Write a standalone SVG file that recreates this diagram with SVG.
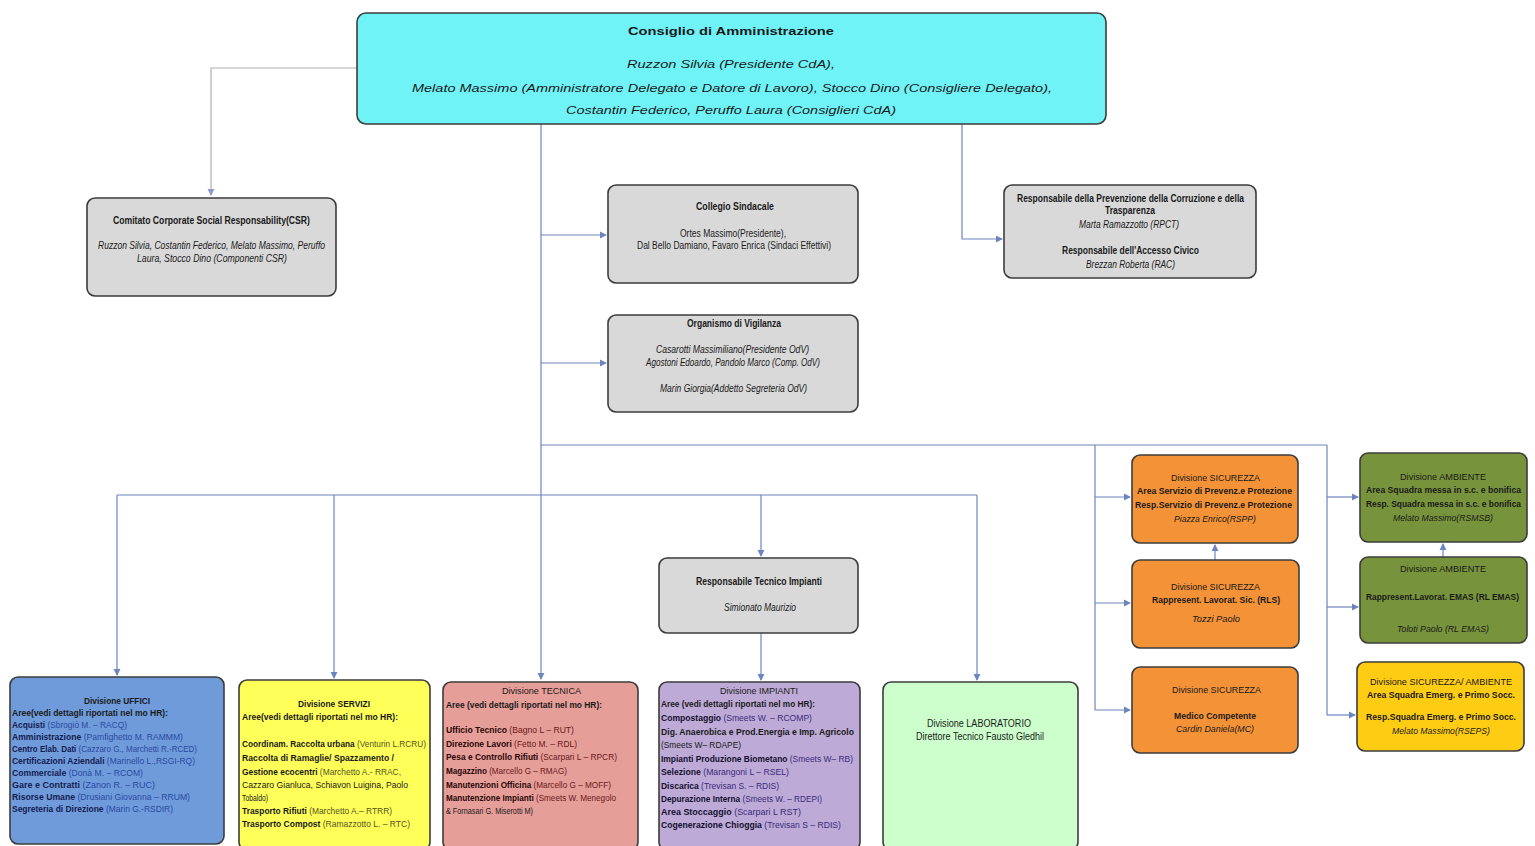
<svg xmlns="http://www.w3.org/2000/svg" width="1535" height="846" viewBox="0 0 1535 846">
<defs>
<style>
.t{font-family:"Liberation Sans Narrow","Liberation Sans",Arial,sans-serif;font-size:10px;fill:#1a1a1a}
.s{font-size:9px}
.x{font-size:8.4px}
.b{font-weight:bold}
.i{font-style:italic}
.box{stroke:#3c3c3c;stroke-width:1.6}
.c{fill:none;stroke:#6c84bf;stroke-width:1.2}
.g{fill:none;stroke:#b0b0b0;stroke-width:1.2}
.gray{fill:#d9d9d9}
</style>
<marker id="ar" viewBox="0 0 8 8" refX="7" refY="4" markerWidth="6" markerHeight="6" orient="auto"><path d="M0,0 L8,4 L0,8 z" fill="#6c84bf"/></marker>
<marker id="ag" viewBox="0 0 8 8" refX="7" refY="4" markerWidth="6" markerHeight="6" orient="auto"><path d="M0,0 L8,4 L0,8 z" fill="#8a9ccc"/></marker>
</defs>
<rect width="1535" height="846" fill="#ffffff"/>

<g id="connectors">
<path class="g" d="M357,68 H211 V195" marker-end="url(#ag)"/>
<path class="c" d="M541,124 V679" marker-end="url(#ar)"/>
<path class="c" d="M541,235 H606" marker-end="url(#ar)"/>
<path class="c" d="M541,363 H606" marker-end="url(#ar)"/>
<path class="c" d="M541,445 H1327"/>
<path class="c" d="M117,495 H977"/>
<path class="c" d="M117,495 V675" marker-end="url(#ar)"/>
<path class="c" d="M334,495 V678" marker-end="url(#ar)"/>
<path class="c" d="M761,495 V556" marker-end="url(#ar)"/>
<path class="c" d="M761,633 V680" marker-end="url(#ar)"/>
<path class="c" d="M977,495 V680" marker-end="url(#ar)"/>
<path class="c" d="M1095,445 V710"/>
<path class="c" d="M1095,497 H1130" marker-end="url(#ar)"/>
<path class="c" d="M1095,603 H1130" marker-end="url(#ar)"/>
<path class="c" d="M1095,710 H1130" marker-end="url(#ar)"/>
<path class="c" d="M1327,445 V715"/>
<path class="c" d="M1327,497 H1358" marker-end="url(#ar)"/>
<path class="c" d="M1327,607 H1358" marker-end="url(#ar)"/>
<path class="c" d="M1327,715 H1355" marker-end="url(#ar)"/>
<path class="c" d="M962,124 V239 H1002" marker-end="url(#ar)"/>
<path class="c" d="M1215,560 V545" marker-end="url(#ar)"/>
<path class="c" d="M1443,557 V544" marker-end="url(#ar)"/>
</g>

<g id="cda">
<rect class="box" x="357" y="13" width="749" height="111" rx="9" fill="#6ff3f6"/>
<text class="t b" x="628" y="35" font-size="18" textLength="206" lengthAdjust="spacingAndGlyphs">Consiglio di Amministrazione</text>
<text class="t i" x="627" y="68" font-size="17" textLength="208" lengthAdjust="spacingAndGlyphs">Ruzzon Silvia (Presidente CdA),</text>
<text class="t i" x="412" y="92" font-size="17" textLength="640" lengthAdjust="spacingAndGlyphs">Melato Massimo (Amministratore Delegato e Datore di Lavoro), Stocco Dino (Consigliere Delegato),</text>
<text class="t i" x="566" y="114" font-size="17" textLength="330" lengthAdjust="spacingAndGlyphs">Costantin Federico, Peruffo Laura (Consiglieri CdA)</text>
</g>

<g id="csr">
<rect class="box gray" x="87" y="198" width="249" height="98" rx="8"/>
<text class="t b" x="113" y="224" textLength="197" lengthAdjust="spacingAndGlyphs">Comitato Corporate Social Responsability(CSR)</text>
<text class="t i" x="98" y="249" fill="#333" textLength="227" lengthAdjust="spacingAndGlyphs">Ruzzon Silvia, Costantin Federico, Melato Massimo, Peruffo</text>
<text class="t i" x="137" y="262" textLength="150" lengthAdjust="spacingAndGlyphs">Laura, Stocco Dino  (Componenti CSR)</text>
</g>

<g id="collegio">
<rect class="box gray" x="608" y="185" width="250" height="98" rx="8"/>
<text class="t b" x="696" y="210" textLength="78" lengthAdjust="spacingAndGlyphs">Collegio Sindacale</text>
<text class="t" x="680" y="237" textLength="106" lengthAdjust="spacingAndGlyphs">Ortes Massimo(Presidente),</text>
<text class="t" x="637" y="249" textLength="194" lengthAdjust="spacingAndGlyphs">Dal Bello Damiano, Favaro Enrica (Sindaci Effettivi)</text>
</g>

<g id="rpct">
<rect class="box gray" x="1004" y="185" width="252" height="93" rx="8"/>
<text class="t b" x="1017" y="202" textLength="227" lengthAdjust="spacingAndGlyphs">Responsabile della Prevenzione della Corruzione e della</text>
<text class="t b" x="1105" y="214" textLength="50" lengthAdjust="spacingAndGlyphs">Trasparenza</text>
<text class="t i" x="1079" y="228" textLength="100" lengthAdjust="spacingAndGlyphs">Marta Ramazzotto (RPCT)</text>
<text class="t b" x="1062" y="254" textLength="137" lengthAdjust="spacingAndGlyphs">Responsabile dell'Accesso Civico</text>
<text class="t i" x="1086" y="268" textLength="89" lengthAdjust="spacingAndGlyphs">Brezzan Roberta (RAC)</text>
</g>

<g id="odv">
<rect class="box gray" x="608" y="315" width="250" height="97" rx="8"/>
<text class="t b" x="687" y="327" textLength="94" lengthAdjust="spacingAndGlyphs">Organismo di Vigilanza</text>
<text class="t i" x="656" y="353" textLength="153" lengthAdjust="spacingAndGlyphs">Casarotti Massimiliano(Presidente OdV)</text>
<text class="t i" x="646" y="366" textLength="174" lengthAdjust="spacingAndGlyphs">Agostoni Edoardo, Pandolo Marco (Comp. OdV)</text>
<text class="t i" x="660" y="392" textLength="147" lengthAdjust="spacingAndGlyphs">Marin Giorgia(Addetto Segreteria OdV)</text>
</g>

<g id="resp-tecnico">
<rect class="box gray" x="659" y="558" width="199" height="75" rx="8"/>
<text class="t b" x="696" y="585" textLength="126" lengthAdjust="spacingAndGlyphs">Responsabile Tecnico Impianti</text>
<text class="t i" x="724" y="611" textLength="72" lengthAdjust="spacingAndGlyphs">Simionato Maurizio</text>
</g>

<g id="uffici">
<rect class="box" x="10" y="677" width="214" height="167" rx="8" fill="#6f9bdb"/>
<text class="t s b" x="84" y="704" fill="#1c2a6a" textLength="66" lengthAdjust="spacingAndGlyphs">Divisione UFFICI</text>
<text class="t s b" x="12" y="716" fill="#141c50" textLength="156" lengthAdjust="spacingAndGlyphs">Aree(vedi dettagli riportati nel mo HR):</text>
<text class="t s" x="12" y="728" textLength="115" lengthAdjust="spacingAndGlyphs"><tspan class="b" fill="#141c50">Acquisti</tspan><tspan fill="#2b4aa0"> (Sbrogiò M. – RACQ)</tspan></text>
<text class="t x" x="12" y="740" textLength="171" lengthAdjust="spacingAndGlyphs"><tspan class="b" fill="#141c50">Amministrazione</tspan><tspan fill="#2b4aa0"> (Pamfighetto M. RAMMM)</tspan></text>
<text class="t x" x="12" y="752" textLength="185" lengthAdjust="spacingAndGlyphs"><tspan class="b" fill="#141c50">Centro Elab. Dati</tspan><tspan fill="#2b4aa0"> (Cazzaro G., Marchetti R.-RCED)</tspan></text>
<text class="t x" x="12" y="764" textLength="183" lengthAdjust="spacingAndGlyphs"><tspan class="b" fill="#141c50">Certificazioni Aziendali</tspan><tspan fill="#2b4aa0"> (Marinello L.,RSGI-RQ)</tspan></text>
<text class="t s" x="12" y="776" textLength="131" lengthAdjust="spacingAndGlyphs"><tspan class="b" fill="#141c50">Commerciale</tspan><tspan fill="#2b4aa0"> (Donà M. – RCOM)</tspan></text>
<text class="t s" x="12" y="788" textLength="143" lengthAdjust="spacingAndGlyphs"><tspan class="b" fill="#141c50">Gare e Contratti</tspan><tspan fill="#2b4aa0"> (Zanon R. – RUC)</tspan></text>
<text class="t x" x="12" y="800" textLength="178" lengthAdjust="spacingAndGlyphs"><tspan class="b" fill="#141c50">Risorse Umane</tspan><tspan fill="#2b4aa0"> (Drusiani Giovanna – RRUM)</tspan></text>
<text class="t s" x="12" y="812" textLength="161" lengthAdjust="spacingAndGlyphs"><tspan class="b" fill="#141c50">Segreteria di Direzione</tspan><tspan fill="#2b4aa0"> (Marin G.-RSDIR)</tspan></text>
</g>

<g id="servizi">
<rect class="box" x="239" y="680" width="191" height="170" rx="8" fill="#ffff5a"/>
<text class="t s b" x="298" y="707" textLength="72" lengthAdjust="spacingAndGlyphs">Divisione SERVIZI</text>
<text class="t s b" x="242" y="720" textLength="156" lengthAdjust="spacingAndGlyphs">Aree(vedi dettagli riportati nel mo HR):</text>
<text class="t x" x="242" y="747" textLength="184" lengthAdjust="spacingAndGlyphs"><tspan class="b">Coordinam. Raccolta urbana</tspan><tspan fill="#555520"> (Venturin L.RCRU)</tspan></text>
<text class="t s b" x="242" y="761" textLength="152" lengthAdjust="spacingAndGlyphs">Raccolta di Ramaglie/ Spazzamento /</text>
<text class="t x" x="242" y="775" textLength="159" lengthAdjust="spacingAndGlyphs"><tspan class="b">Gestione ecocentri</tspan><tspan fill="#555520"> (Marchetto A.- RRAC,</tspan></text>
<text class="t s" x="242" y="788" fill="#555520" textLength="166" lengthAdjust="spacingAndGlyphs">Cazzaro Gianluca, Schiavon Luigina, Paolo</text>
<text class="t s" x="242" y="801" fill="#555520" textLength="26" lengthAdjust="spacingAndGlyphs">Tobaldo)</text>
<text class="t x" x="242" y="814" textLength="150" lengthAdjust="spacingAndGlyphs"><tspan class="b">Trasporto Rifiuti</tspan><tspan fill="#555520"> (Marchetto A.– RTRR)</tspan></text>
<text class="t x" x="242" y="827" textLength="168" lengthAdjust="spacingAndGlyphs"><tspan class="b">Trasporto Compost</tspan><tspan fill="#555520"> (Ramazzotto L. – RTC)</tspan></text>
</g>

<g id="tecnica">
<rect class="box" x="443" y="682" width="195" height="168" rx="8" fill="#e69e98"/>
<text class="t s" x="502" y="694" fill="#3a1010" textLength="79" lengthAdjust="spacingAndGlyphs">Divisione TECNICA</text>
<text class="t s b" x="446" y="708" fill="#2a0808" textLength="156" lengthAdjust="spacingAndGlyphs">Aree (vedi dettagli riportati nel mo HR):</text>
<text class="t s" x="446" y="733" textLength="128" lengthAdjust="spacingAndGlyphs"><tspan class="b" fill="#2a0808">Ufficio Tecnico</tspan><tspan fill="#6a1a1a"> (Bagno L – RUT)</tspan></text>
<text class="t s" x="446" y="747" textLength="131" lengthAdjust="spacingAndGlyphs"><tspan class="b" fill="#2a0808">Direzione Lavori</tspan><tspan fill="#6a1a1a"> (Fetto M. – RDL)</tspan></text>
<text class="t x" x="446" y="760" textLength="171" lengthAdjust="spacingAndGlyphs"><tspan class="b" fill="#2a0808">Pesa e Controllo Rifiuti</tspan><tspan fill="#6a1a1a"> (Scarpari L – RPCR)</tspan></text>
<text class="t x" x="446" y="774" textLength="121" lengthAdjust="spacingAndGlyphs"><tspan class="b" fill="#2a0808">Magazzino</tspan><tspan fill="#6a1a1a"> (Marcello G – RMAG)</tspan></text>
<text class="t x" x="446" y="788" textLength="165" lengthAdjust="spacingAndGlyphs"><tspan class="b" fill="#2a0808">Manutenzioni Officina</tspan><tspan fill="#6a1a1a"> (Marcello G – MOFF)</tspan></text>
<text class="t x" x="446" y="801" textLength="170" lengthAdjust="spacingAndGlyphs"><tspan class="b" fill="#2a0808">Manutenzione Impianti</tspan><tspan fill="#6a1a1a"> (Smeets W. Menegolo</tspan></text>
<text class="t s" x="446" y="814" fill="#6a1a1a" textLength="87" lengthAdjust="spacingAndGlyphs">&amp; Fornasari G. Miserotti M)</text>
</g>

<g id="impianti">
<rect class="box" x="659" y="682" width="201" height="168" rx="8" fill="#bdaad6"/>
<text class="t s" x="720" y="694" fill="#1a1540" textLength="78" lengthAdjust="spacingAndGlyphs">Divisione IMPIANTI</text>
<text class="t s b" x="661" y="707" fill="#141030" textLength="154" lengthAdjust="spacingAndGlyphs">Aree (vedi dettagli riportati nel mo HR):</text>
<text class="t x" x="661" y="721" textLength="151" lengthAdjust="spacingAndGlyphs"><tspan class="b" fill="#141030">Compostaggio</tspan><tspan fill="#3a2a7a"> (Smeets W. – RCOMP)</tspan></text>
<text class="t x b" x="661" y="735" fill="#141030" textLength="193" lengthAdjust="spacingAndGlyphs">Dig. Anaerobica e Prod.Energia e Imp. Agricolo</text>
<text class="t s" x="661" y="748" fill="#3a2a7a" textLength="80" lengthAdjust="spacingAndGlyphs">(Smeets W– RDAPE)</text>
<text class="t x" x="661" y="762" textLength="192" lengthAdjust="spacingAndGlyphs"><tspan class="b" fill="#141030">Impianti Produzione Biometano</tspan><tspan fill="#3a2a7a"> (Smeets W– RB)</tspan></text>
<text class="t s" x="661" y="775" textLength="128" lengthAdjust="spacingAndGlyphs"><tspan class="b" fill="#141030">Selezione</tspan><tspan fill="#3a2a7a"> (Marangoni L – RSEL)</tspan></text>
<text class="t s" x="661" y="789" textLength="118" lengthAdjust="spacingAndGlyphs"><tspan class="b" fill="#141030">Discarica</tspan><tspan fill="#3a2a7a"> (Trevisan S. – RDIS)</tspan></text>
<text class="t x" x="661" y="802" textLength="161" lengthAdjust="spacingAndGlyphs"><tspan class="b" fill="#141030">Depurazione Interna</tspan><tspan fill="#3a2a7a"> (Smeets W. – RDEPI)</tspan></text>
<text class="t s" x="661" y="815" textLength="140" lengthAdjust="spacingAndGlyphs"><tspan class="b" fill="#141030">Area Stoccaggio</tspan><tspan fill="#3a2a7a"> (Scarpari L RST)</tspan></text>
<text class="t x" x="661" y="828" textLength="180" lengthAdjust="spacingAndGlyphs"><tspan class="b" fill="#141030">Cogenerazione Chioggia</tspan><tspan fill="#3a2a7a"> (Trevisan S – RDIS)</tspan></text>
</g>

<g id="laboratorio">
<rect class="box" x="883" y="682" width="195" height="168" rx="8" fill="#ccffcc"/>
<text class="t" x="927" y="727" fill="#0f3a0f" textLength="104" lengthAdjust="spacingAndGlyphs">Divisione LABORATORIO</text>
<text class="t" x="916" y="740" fill="#0f3a0f" textLength="128" lengthAdjust="spacingAndGlyphs">Direttore Tecnico Fausto Gledhil</text>
</g>

<g id="sicurezza-rspp">
<rect class="box" x="1132" y="455" width="166" height="88" rx="8" fill="#f39237"/>
<text class="t s" x="1171" y="481" textLength="89" lengthAdjust="spacingAndGlyphs">Divisione SICUREZZA</text>
<text class="t s b" x="1137" y="494" textLength="155" lengthAdjust="spacingAndGlyphs">Area Servizio di Prevenz.e Protezione</text>
<text class="t s b" x="1135" y="508" textLength="157" lengthAdjust="spacingAndGlyphs">Resp.Servizio di Prevenz.e Protezione</text>
<text class="t s i" x="1174" y="522" fill="#6a3008" textLength="82" lengthAdjust="spacingAndGlyphs">Piazza Enrico(RSPP)</text>
</g>

<g id="sicurezza-rls">
<rect class="box" x="1132" y="560" width="167" height="88" rx="8" fill="#f39237"/>
<text class="t s" x="1171" y="590" textLength="89" lengthAdjust="spacingAndGlyphs">Divisione SICUREZZA</text>
<text class="t s b" x="1152" y="603" textLength="128" lengthAdjust="spacingAndGlyphs">Rappresent. Lavorat. Sic. (RLS)</text>
<text class="t s i" x="1192" y="622" fill="#6a3008" textLength="48" lengthAdjust="spacingAndGlyphs">Tozzi Paolo</text>
</g>

<g id="sicurezza-mc">
<rect class="box" x="1132" y="667" width="166" height="86" rx="8" fill="#f39237"/>
<text class="t s" x="1172" y="693" textLength="89" lengthAdjust="spacingAndGlyphs">Divisione SICUREZZA</text>
<text class="t s b" x="1174" y="719" textLength="82" lengthAdjust="spacingAndGlyphs">Medico Competente</text>
<text class="t s i" x="1176" y="732" fill="#6a3008" textLength="78" lengthAdjust="spacingAndGlyphs">Cardin Daniela(MC)</text>
</g>

<g id="ambiente-rsmsb">
<rect class="box" x="1360" y="453" width="167" height="89" rx="8" fill="#77943c"/>
<text class="t s" x="1400" y="480" fill="#101a05" textLength="86" lengthAdjust="spacingAndGlyphs">Divisione AMBIENTE</text>
<text class="t s b" x="1366" y="493" fill="#101a05" textLength="155" lengthAdjust="spacingAndGlyphs">Area Squadra messa in s.c. e bonifica</text>
<text class="t s b" x="1366" y="507" fill="#101a05" textLength="155" lengthAdjust="spacingAndGlyphs">Resp. Squadra messa in s.c. e bonifica</text>
<text class="t s i" x="1393" y="521" fill="#2a3a10" textLength="100" lengthAdjust="spacingAndGlyphs">Melato Massimo(RSMSB)</text>
</g>

<g id="ambiente-rlemas">
<rect class="box" x="1360" y="557" width="167" height="86" rx="8" fill="#77943c"/>
<text class="t s" x="1400" y="572" fill="#101a05" textLength="86" lengthAdjust="spacingAndGlyphs">Divisione AMBIENTE</text>
<text class="t s b" x="1366" y="600" fill="#101a05" textLength="153" lengthAdjust="spacingAndGlyphs">Rappresent.Lavorat. EMAS (RL EMAS)</text>
<text class="t s i" x="1397" y="632" fill="#2a3a10" textLength="92" lengthAdjust="spacingAndGlyphs">Toloti Paolo (RL EMAS)</text>
</g>

<g id="sicurezza-ambiente">
<rect class="box" x="1357" y="662" width="167" height="89" rx="8" fill="#ffcc14"/>
<text class="t s" x="1370" y="685" textLength="142" lengthAdjust="spacingAndGlyphs">Divisione SICUREZZA/ AMBIENTE</text>
<text class="t s b" x="1367" y="698" textLength="148" lengthAdjust="spacingAndGlyphs">Area Squadra Emerg. e Primo Socc.</text>
<text class="t s b" x="1366" y="720" textLength="150" lengthAdjust="spacingAndGlyphs">Resp.Squadra Emerg. e Primo Socc.</text>
<text class="t s i" x="1392" y="734" fill="#5a3a00" textLength="98" lengthAdjust="spacingAndGlyphs">Melato Massimo(RSEPS)</text>
</g>
</svg>
